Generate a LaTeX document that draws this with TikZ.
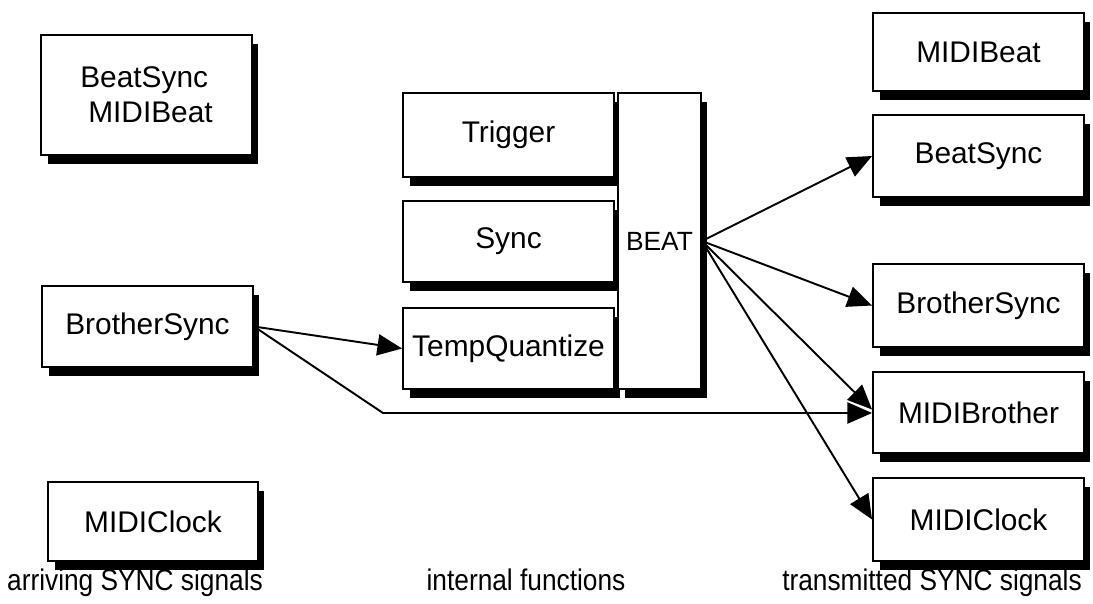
\documentclass[tikz,border=0pt]{standalone}
\usepackage{fontspec}
\setmainfont{Liberation Sans}
\newfontfamily\narrowsans[FakeStretch=0.88]{Liberation Sans}
\usetikzlibrary{positioning,shadows,arrows.meta}

\begin{document}
\begin{tikzpicture}[
    x=0.02cm, y=-0.02cm,
    signal/.style={draw, fill=white, line width=1.1pt, minimum width=4.22cm, minimum height=1.64cm, inner sep=0pt,
        font=\fontsize{17}{20}\selectfont,
        drop shadow={shadow xshift=0.13cm, shadow yshift=-0.18cm, fill=black, opacity=1}},
    caption/.style={anchor=base, font=\narrowsans\fontsize{17}{20}\selectfont},
    arrow/.style={-{Triangle[length=14pt, width=12pt]}, line width=1.1pt}
]
\useasboundingbox (0,0) rectangle (1093,603);

% Arriving
\node[signal, minimum height=2.4cm, align=left] (bsmbin) at (146.5,95) {BeatSync\\\hspace*{0.16cm}MIDIBeat};
\node[signal, minimum height=1.62cm] (bsin) at (147.5,326.5) {BrotherSync};
\node[signal, minimum height=1.58cm, minimum width=4.2cm] (mcin) at (153,521.5) {MIDIClock};

% Internal
\node[signal, minimum height=1.68cm] (trig) at (508.5,135) {Trigger};
\node[signal, minimum height=1.62cm] (sync) at (508.5,241.5) {Sync};
\node[signal, minimum height=1.62cm] (tq) at (508.5,348.5) {TempQuantize};
\node[signal, minimum width=1.66cm, minimum height=5.92cm, font=\fontsize{15}{18}\selectfont] (beat) at (659.5,241) {BEAT};

% Transmitted
\node[signal, minimum height=1.56cm] (mbout) at (978.5,52) {MIDIBeat};
\node[signal] (bsout) at (978.5,156) {BeatSync};
\node[signal, minimum height=1.66cm] (brout) at (978.5,305.5) {BrotherSync};
\node[signal, minimum height=1.62cm] (mbrout) at (978.5,412.5) {MIDIBrother};
\node[signal, minimum height=1.66cm] (mcout) at (978.5,519.5) {MIDIClock};

% Arrows
\coordinate (bend) at (383,413);
\draw[arrow] (bsin.east) -- (tq.west);
\draw[arrow] (bsin.east) -- (bend) -- (bend -| mbrout.west);
\draw[arrow] (beat.east) -- (bsout.west);
\draw[arrow] (beat.east) -- (brout.west);
\draw[arrow] (beat.east) -- ([yshift=0.06cm]mbrout.west);
\draw[arrow] (beat.east) -- (mcout.west);

% Captions
\node[caption] (arriving) at (135,590) {arriving SYNC signals};
\node[caption] (internal) at (526,590) {internal functions};
\node[caption] (transmitted) at (932,590) {transmitted SYNC signals};

\end{tikzpicture}
\end{document}
